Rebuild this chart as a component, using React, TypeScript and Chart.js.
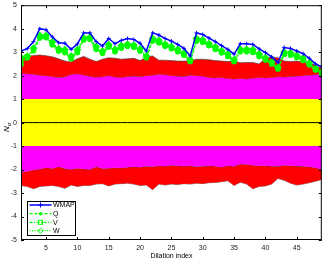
import React, { useEffect, useRef } from "react";
import { Chart, registerables } from "chart.js";

Chart.register(...registerables);

const dilationIndex = [1,2,3,4,5,6,7,8,9,10,11,12,13,14,15,16,17,18,19,20,21,22,23,24,25,26,27,28,29,30,31,32,33,34,35,36,37,38,39,40,41,42,43,44,45,46,47,48,49];

const wmap = [3.05,3.15,3.45,4.0,3.95,3.65,3.4,3.38,3.12,3.35,3.82,3.82,3.45,3.26,3.58,3.36,3.5,3.58,3.54,3.38,3.05,3.82,3.73,3.58,3.47,3.33,3.16,2.84,3.82,3.75,3.6,3.45,3.28,3.12,2.92,3.36,3.36,3.33,3.14,2.98,2.8,2.56,3.2,3.16,3.05,2.94,2.74,2.5,2.38];
const qBand = [2.48,2.76,3.06,3.6,3.62,3.32,3.05,2.98,2.72,2.98,3.52,3.55,3.12,2.95,3.22,3.02,3.17,3.25,3.21,3.05,2.76,3.47,3.4,3.25,3.15,3.02,2.87,2.6,3.47,3.42,3.27,3.12,2.97,2.82,2.6,3.02,3.02,2.99,2.82,2.67,2.5,2.28,2.9,2.87,2.77,2.65,2.46,2.24,2.08];
const vBand = [2.68,2.8,3.12,3.67,3.66,3.38,3.1,3.05,2.78,3.05,3.58,3.6,3.18,3.0,3.28,3.08,3.23,3.3,3.26,3.1,2.8,3.53,3.46,3.3,3.2,3.08,2.93,2.64,3.53,3.48,3.33,3.18,3.03,2.88,2.64,3.08,3.08,3.06,2.88,2.73,2.54,2.32,2.96,2.93,2.83,2.7,2.5,2.28,2.12];
const wBand = [2.78,2.83,3.17,3.7,3.7,3.43,3.14,3.1,2.83,3.1,3.61,3.64,3.23,3.04,3.32,3.12,3.28,3.34,3.3,3.14,2.84,3.58,3.5,3.34,3.24,3.12,2.96,2.68,3.58,3.52,3.36,3.22,3.06,2.92,2.68,3.12,3.12,3.1,2.92,2.76,2.58,2.36,3.0,2.97,2.86,2.74,2.54,2.32,2.16];

const upper3 = [2.78,2.82,2.86,2.88,2.85,2.8,2.72,2.62,2.58,2.72,2.82,2.7,2.6,2.7,2.76,2.74,2.7,2.72,2.74,2.64,2.78,2.84,2.66,2.66,2.64,2.62,2.62,2.62,2.7,2.7,2.68,2.64,2.62,2.6,2.62,2.55,2.56,2.56,2.5,2.74,2.78,2.76,2.62,2.6,2.62,2.58,2.52,2.46,2.3];
const upper2 = [2.1,2.08,2.06,2.02,2.0,1.96,1.92,1.95,2.05,2.08,2.02,1.97,1.93,1.95,2.0,1.94,1.92,1.96,1.98,1.95,2.0,2.02,2.06,2.04,2.0,1.98,1.96,2.02,2.0,1.98,1.92,1.9,1.92,1.88,1.86,1.88,1.86,1.9,1.92,1.9,1.92,1.95,1.94,1.96,1.98,2.0,2.02,2.04,2.1];
const upper1 = [1,1,1,1,1,1,1,1,1,1,1,1,1,1,1,1,1,1,1,1,1,1,1,1,1,1,1,1,1,1,1,1,1,1,1,1,1,1,1,1,1,1,1,1,1,1,1,1,1];
const lower1 = [-1,-1,-1,-1,-1,-1,-1,-1,-1,-1,-1,-1,-1,-1,-1,-1,-1,-1,-1,-1,-1,-1,-1,-1,-1,-1,-1,-1,-1,-1,-1,-1,-1,-1,-1,-1,-1,-1,-1,-1,-1,-1,-1,-1,-1,-1,-1,-1,-1];
const lower2 = [-2.12,-2.08,-2.02,-1.98,-1.92,-1.95,-1.88,-1.96,-2.0,-1.94,-1.98,-2.0,-1.88,-1.96,-1.94,-1.92,-1.93,-1.9,-1.88,-1.9,-1.86,-1.88,-1.84,-1.86,-1.82,-1.84,-1.86,-1.84,-1.88,-1.86,-1.84,-1.86,-1.9,-1.84,-1.86,-1.76,-1.78,-1.82,-1.84,-1.84,-1.86,-1.86,-1.82,-1.84,-1.85,-1.86,-1.88,-1.92,-2.0];
const lower3 = [-2.68,-2.72,-2.82,-2.72,-2.7,-2.68,-2.72,-2.8,-2.66,-2.72,-2.68,-2.68,-2.62,-2.6,-2.7,-2.62,-2.6,-2.58,-2.62,-2.68,-2.66,-2.86,-2.62,-2.66,-2.62,-2.64,-2.6,-2.62,-2.58,-2.6,-2.56,-2.55,-2.52,-2.48,-2.68,-2.54,-2.62,-2.82,-2.72,-2.7,-2.62,-2.38,-2.46,-2.58,-2.66,-2.62,-2.56,-2.5,-2.42];
const zeroLine = [0,0,0,0,0,0,0,0,0,0,0,0,0,0,0,0,0,0,0,0,0,0,0,0,0,0,0,0,0,0,0,0,0,0,0,0,0,0,0,0,0,0,0,0,0,0,0,0,0];

const xTicks = [5, 10, 15, 20, 25, 30, 35, 40, 45];
const yTicks = [-5, -4, -3, -2, -1, 0, 1, 2, 3, 4, 5];
const legendLabels = ["WMAP", "Q", "V", "W"];

const FONT = "Liberation Sans, Arial, sans-serif";
const BLUE = "#0000ff";
const GREEN = "#00ff00";

const pts = (arr: number[]) => dilationIndex.map((x, i) => ({ x, y: arr[i] }));

const decorPlugin = {
  id: "decor",
  afterDraw(chart: any) {
    const ctx = chart.ctx;
    const a = chart.chartArea;
    const xs = chart.scales.x;
    const ys = chart.scales.y;
    ctx.save();
    ctx.strokeStyle = "#000";
    ctx.lineWidth = 1;
    ctx.strokeRect(a.left + 0.5, a.top + 0.5, a.right - a.left - 1, a.bottom - a.top - 1);
    ctx.beginPath();
    const tl = 3;
    xTicks.forEach((t) => {
      const px = Math.round(xs.getPixelForValue(t)) + 0.5;
      ctx.moveTo(px, a.bottom);
      ctx.lineTo(px, a.bottom - tl);
      ctx.moveTo(px, a.top);
      ctx.lineTo(px, a.top + tl);
    });
    yTicks.forEach((t) => {
      const py = Math.round(ys.getPixelForValue(t)) + 0.5;
      ctx.moveTo(a.left, py);
      ctx.lineTo(a.left + tl, py);
      ctx.moveTo(a.right, py);
      ctx.lineTo(a.right - tl, py);
    });
    ctx.stroke();

    // x title
    ctx.fillStyle = "#000";
    ctx.font = `7px ${FONT}`;
    ctx.textAlign = "center";
    ctx.textBaseline = "middle";
    ctx.fillText("Dilation index", (a.left + a.right) / 2, 256);

    // y title N_sigma
    ctx.save();
    ctx.translate(7, 127);
    ctx.rotate(-Math.PI / 2);
    ctx.font = `italic 8px ${FONT}`;
    ctx.textAlign = "left";
    ctx.textBaseline = "middle";
    ctx.fillText("N", -5, 0);
    const nw = ctx.measureText("N").width;
    ctx.font = `italic 6px ${FONT}`;
    ctx.fillText("σ", -5 + nw, 2.5);
    ctx.restore();

    // legend
    const lx = 27, ly = 201, lw = 48, lh = 34;
    ctx.fillStyle = "#fff";
    ctx.fillRect(lx, ly, lw, lh);
    ctx.strokeStyle = "#000";
    ctx.lineWidth = 1;
    ctx.strokeRect(lx + 0.5, ly + 0.5, lw, lh);
    const rows = [205, 213.7, 222.3, 230.7];
    const x0 = 29.5, x1 = 51.5, xm = 40.5;
    rows.forEach((ry, i) => {
      ctx.save();
      ctx.strokeStyle = i === 0 ? BLUE : GREEN;
      ctx.fillStyle = i === 0 ? BLUE : GREEN;
      ctx.lineWidth = i === 0 ? 1.5 : 1.2;
      if (i === 1) ctx.setLineDash([3, 2]);
      if (i === 2) ctx.setLineDash([3, 1.5, 1, 1.5]);
      if (i === 3) ctx.setLineDash([1, 1.5]);
      ctx.beginPath();
      ctx.moveTo(x0, ry);
      ctx.lineTo(x1, ry);
      ctx.stroke();
      ctx.setLineDash([]);
      ctx.lineWidth = 1;
      ctx.beginPath();
      if (i === 0) {
        ctx.moveTo(xm - 2.5, ry); ctx.lineTo(xm + 2.5, ry);
        ctx.moveTo(xm, ry - 2.5); ctx.lineTo(xm, ry + 2.5);
        ctx.stroke();
      } else if (i === 1) {
        ctx.arc(xm, ry, 1.8, 0, Math.PI * 2);
        ctx.fill();
      } else if (i === 2) {
        ctx.strokeRect(xm - 2, ry - 2, 4, 4);
      } else {
        ctx.moveTo(xm, ry - 2.6); ctx.lineTo(xm + 2.6, ry); ctx.lineTo(xm, ry + 2.6); ctx.lineTo(xm - 2.6, ry); ctx.closePath();
        ctx.stroke();
      }
      ctx.restore();
      ctx.fillStyle = "#000";
      ctx.font = `7px ${FONT}`;
      ctx.textAlign = "left";
      ctx.textBaseline = "middle";
      ctx.fillText(legendLabels[i], 53, ry + 0.5);
    });
    ctx.restore();
  },
};

export default function App() {
  const ref = useRef<HTMLCanvasElement | null>(null);
  useEffect(() => {
    document.body.style.margin = "0";
    if (!ref.current) return;
    const band = (data: number[], bg: string | false, border: boolean, order: number) => ({
      data: pts(data),
      borderColor: border ? "#3a3a3a" : "rgba(0,0,0,0)",
      borderWidth: border ? 0.6 : 0,
      backgroundColor: bg || "rgba(0,0,0,0)",
      fill: bg ? "+1" : false,
      pointRadius: 0,
      tension: 0,
      order,
    });
    const chart = new Chart(ref.current, {
      type: "line",
      data: {
        datasets: [
          band(upper3, "#ff0000", true, 30),
          band(upper2, "#ff00ff", true, 30),
          band(upper1, "#ffff00", false, 30),
          band(lower1, "#ff00ff", false, 30),
          band(lower2, "#ff0000", true, 30),
          band(lower3, false, true, 30),
          {
            data: pts(zeroLine),
            borderColor: "#000",
            borderWidth: 1,
            pointRadius: 0,
            fill: false,
            order: 20,
          },
          {
            label: "Q",
            data: pts(qBand),
            borderColor: GREEN,
            backgroundColor: GREEN,
            borderWidth: 1.2,
            borderDash: [3, 2],
            pointStyle: "circle",
            pointRadius: 2.2,
            fill: false,
            order: 4,
          },
          {
            label: "V",
            data: pts(vBand),
            borderColor: GREEN,
            backgroundColor: GREEN,
            borderWidth: 1.2,
            borderDash: [3, 1.5, 1, 1.5],
            pointStyle: "rect",
            pointRadius: 2.8,
            fill: false,
            order: 3,
          },
          {
            label: "W",
            data: pts(wBand),
            borderColor: GREEN,
            backgroundColor: GREEN,
            borderWidth: 1.2,
            borderDash: [1, 1.5],
            pointStyle: "rectRot",
            pointRadius: 3.1,
            fill: false,
            order: 2,
          },
          {
            label: "WMAP",
            data: pts(wmap),
            borderColor: BLUE,
            backgroundColor: BLUE,
            borderWidth: 1.5,
            pointStyle: "cross",
            pointRadius: 2,
            pointBorderWidth: 1,
            fill: false,
            order: 1,
          },
        ],
      },
      options: {
        animation: false,
        responsive: false,
        events: [],
        layout: { padding: { top: 0, right: 3, left: 0, bottom: 0 } },
        plugins: {
          legend: { display: false },
          tooltip: { enabled: false },
        },
        scales: {
          x: {
            type: "linear",
            min: 1,
            max: 49,
            grid: { display: false, drawTicks: false },
            border: { display: false },
            afterBuildTicks: (s: any) => {
              s.ticks = xTicks.map((v) => ({ value: v }));
            },
            afterFit: (s: any) => {
              s.height = 19;
              s.paddingLeft = 0;
              s.paddingRight = 0;
            },
            ticks: {
              padding: 4,
              maxRotation: 0,
              autoSkip: false,
              color: "#222",
              font: { family: FONT, size: 7 },
            },
          },
          y: {
            type: "linear",
            min: -5,
            max: 5,
            grid: { display: false, drawTicks: false },
            border: { display: false },
            afterBuildTicks: (s: any) => {
              s.ticks = yTicks.map((v) => ({ value: v }));
            },
            afterFit: (s: any) => {
              s.width = 21;
              s.paddingTop = 0;
              s.paddingBottom = 0;
            },
            ticks: {
              padding: 4,
              autoSkip: false,
              color: "#222",
              font: { family: FONT, size: 7 },
            },
          },
        },
      },
      plugins: [decorPlugin],
    } as any);
    return () => chart.destroy();
  }, []);
  return (
    <div style={{ width: 327, height: 259 }}>
      <canvas ref={ref} width={327} height={259} style={{ display: "block" }} />
    </div>
  );
}
